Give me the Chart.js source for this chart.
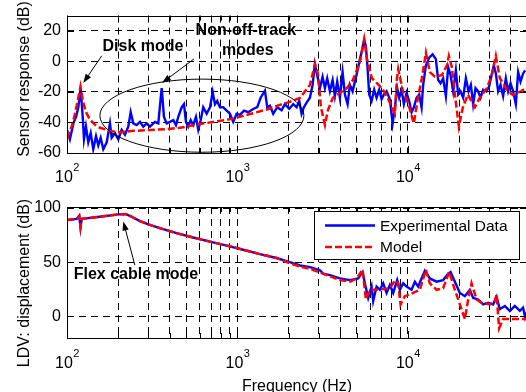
<!DOCTYPE html>
<html>
<head>
<meta charset="utf-8">
<script src="https://cdn.jsdelivr.net/npm/chart.js@4.4.0/dist/chart.umd.min.js"></script>
<style>
  html, body { margin: 0; padding: 0; width: 526px; height: 392px; overflow: hidden; background: #fff; }
  canvas { position: absolute; left: 0; }
  #sensor_chart { top: 0; }
  #ldv_chart { top: 185px; }
</style>
</head>
<body>
<canvas id="sensor_chart" width="528" height="185"></canvas>
<canvas id="ldv_chart" width="528" height="207"></canvas>
<script>
// x grid / tick positions (Hz) and the decade labels 10^n
const freqTicks = [100, 200, 300, 400, 500, 600, 700, 800, 900,
  1000, 2000, 3000, 4000, 5000, 6000, 7000, 8000, 9000,
  10000, 20000, 30000, 40000, 50000];
const xLabelValues = [100, 1000, 10000];
const xLabelExps = ['2', '3', '4'];

const sensorTicks = [-60, -40, -20, 0, 20];
const ldvTicks = [0, 50, 100];

// top plot: sensor response, experimental
const sensorExpFreq = [100, 104, 109, 113, 116.5, 120.3, 123.6, 125.8, 129.2, 133.3, 137.7, 142.6, 148, 152.6, 157.6,
  163.3, 171, 178.7, 182.9, 191.2, 199.9, 209.3, 218.9, 228.8, 236.4, 244.8, 256.3, 268, 280.3, 293.4, 306.7,
  328.2, 343.2, 359.3, 370.7, 384.4, 401.9, 420.3, 435.9, 449.6, 470.7, 485.6, 498.9, 514.6, 531.6, 550.6, 571,
  589, 608.5, 630.2, 659.9, 690, 715.6, 737.9, 761.2, 789.5, 825.4, 864.3, 903.6, 944.8, 989.2, 1034, 1092,
  1157, 1238, 1307, 1368, 1450, 1496, 1551, 1622, 1712, 1816, 1899, 2013, 2125, 2225, 2304, 2380, 2455, 2546,
  2662, 2761, 2848, 2938, 3047, 3160, 3260, 3363, 3487, 3618, 3731, 3849, 3992, 4140, 4271, 4430, 4570, 4740,
  4889, 5043, 5231, 5395, 5543, 5672, 5803, 5930, 6125, 6344, 6553, 6788, 7011, 7233, 7502, 7843, 8135, 8392,
  8656, 8894, 9184, 9474, 9826, 10176, 10512, 10844, 11247, 11649, 12034, 12295, 12753, 13334, 13961, 14597,
  15058, 15555, 16108, 16709, 17237, 17803, 18441, 19124, 19727, 20378, 21104, 21889, 22699, 23415, 24155,
  24951, 25842, 26693, 27645, 28947, 29980, 30968, 31946, 32820, 33855, 34971, 36218, 37565, 38752, 40024,
  41456, 42997, 44357, 45820, 47450, 48753];
const sensorExp = [-44.8, -51, -40.6, -36.4, -30, -17.5, -36, -51, -42.7, -53, -47, -57.5, -49, -55, -50,
  -57.5, -53, -40.6, -50, -47, -51, -44.8, -48, -42.7, -33.3, -40.6, -41.7, -39.6, -42.7, -40.6, -42.7,
  -39.6, -40.6, -17.5, -36.4, -40.6, -39.6, -38.5, -41.7, -36.4, -30.1, -28, -39.6, -42.7, -38.5, -41.7, -36.4,
  -44.8, -38.5, -30.1, -34.3, -30.1, -20, -28, -25.9, -30.1, -30, -32.2, -34.3, -39.6, -34.3, -35, -32.2,
  -33.3, -31.2, -30, -23.8, -19.2, -30.1, -29, -34.3, -30, -32, -28, -31, -28, -30, -25.9, -34.3, -30, -27,
  -23.8, -15.4, -1.7, -9, -17.5, -10.1, -17.5, -11.1, -19.6, -12.2, -22.7, -13.2, -23.8, -7, -21.7, -28, -15.4, -19.6,
  -13.2, -7, 1.5, 7.8, 14.1, 9.9, -4.8, -21.7, -25.9, -18.5, -23.8, -18.5, -24.8, -21.7, -19.6, -24.8, -40.6, -30.1,
  -17.5, -23.8, -18.5, -28, -20.6, -25.9, -33.3, -30.1, -23.8, -21.7, -30.1, -15.4, -2.7, 2.5, 4.6, 1.5,
  -12.2, -14.3, -11.1, -22.7, -3.8, -9, -19.6, -5.9, -21.7, -19.6, -23.8, -11.1, -19.6, -15.4, -28,
  -17.5, -19.6, -23.8, -18.5, -19.6, -16.4, -9, -2.7, -7.9, -19.6, -15.4, -22.7, -11.1, -19.6, -14.3,
  -19.6, -28, -7, -13.2, -7.9, -5.9];

// top plot: sensor response, model
const sensorModelFreq = [100, 107, 111, 116, 120, 124, 129, 136, 146, 156, 179, 205, 244, 307, 386, 460, 603, 738,
  941, 1184, 1489, 1775, 2030, 2326, 2663, 2851, 2967, 3090, 3261, 3394, 3631, 3991, 4387, 4757, 5229, 5544,
  5754, 6152, 6580, 7040, 7533, 8054, 8390, 8610, 8774, 9354, 10000, 10840, 11450, 12080, 12760, 13460, 14400,
  15820, 16930, 17400, 18120, 18870, 19920, 21030, 22490, 24720, 26440, 29060, 31100, 32810, 34640, 38080,
  41300, 45400, 50000];
const sensorModel = [-50.5, -42, -35, -25, -16.5, -26, -33, -38, -41.5, -43.5, -45.5, -46.5, -45.5, -45, -44.3, -43.5, -41, -39.5,
  -37.5, -34.5, -31.5, -28.5, -26.5, -24, -15.4, -1.7, -8, -30, -41.7, -32, -23.8, -20.6, -17.5, -12.2, -0.6, 14.5,
  1.5, -11, -14.3, -17.5, -22.7, -30, -34.3, -12, -5, -19.6, -27, -40.6, -23.8, -11, 5.7, -7, -10,
  -9, -2.7, 3.6, -3.8, -21.7, -42.7, -30, -21.7, -30, -23.8, -17.5, -9, 3.6, -11, -18.5,
  -22, -20, -17];

// bottom plot: LDV displacement, experimental
const ldvExpFreq = [100, 114, 118, 120, 122, 156, 200, 224, 239, 268, 300, 351, 440, 550, 690, 866, 1080, 1355,
  1695, 2030, 2326, 2663, 3049, 3186, 3487, 3992, 4570, 5111, 5424, 5595, 5851, 6125, 6259, 6553, 6852, 7164,
  7502, 7843, 8201, 8656, 8978, 9385, 9826, 10512, 10990, 11491, 12034, 12583, 13459, 14734, 16108, 17237,
  17803, 18871, 20184, 21593, 23100, 24155, 25842, 27645, 29580, 31644, 33130, 34640, 37063, 39650, 42420,
  45380, 47450, 48753, 50000];
const ldvExp = [89, 90, 93, 82, 90, 92, 94.2, 94.2, 92, 88, 85, 81.4, 76.8, 72.8, 69, 65.4, 61.5, 57.5,
  53.9, 50, 47, 45.5, 42.5, 39.5, 38, 35, 33.5, 35, 41, 30.5, 17, 27.5, 14, 27.5, 24.5, 30.5,
  21.6, 29, 21.6, 33.5, 24.5, 30.5, 27.5, 24.5, 32, 27.5, 35, 42, 35, 32, 33.5, 39.5,
  41, 32, 21.6, 18.6, 24.5, 17, 15.6, 11, 12.6, 11, 18, 6.6, 9.6, 5, 9.6,
  5, 8, -1, 4];

// bottom plot: LDV displacement, model
const ldvModelFreq = [100, 114, 118, 120, 122, 156, 200, 224, 239, 268, 300, 351, 440, 550, 690, 866, 1080, 1355,
  1695, 2030, 2326, 2663, 3049, 3487, 3992, 4570, 5003, 5424, 5672, 5986, 6852, 7843, 8390, 8774, 9062, 9603,
  10742, 11759, 12760, 13459, 14734, 16108, 17470, 18871, 20184, 21593, 22580, 23638, 25287, 27059, 30265,
  32380, 33130, 34320, 36218, 41456, 50000];
const ldvModel = [89, 90, 92.5, 83, 90, 92, 94.2, 94.2, 92, 88, 85, 81.4, 76.8, 72.8, 69, 65.4, 61.5, 57.5,
  53.9, 49, 46, 44, 40.5, 37, 33.5, 32, 35, 43, 15.6, 24.5, 25, 26, 33, 30.5, 11, 18.6,
  21.6, 24.5, 43, 30.5, 24.5, 26, 41, 24.5, 11, -2.4, 15.6, 30.5, 15.6, 12.6, 11,
  14, 20, -11, -2.4, -2.4, -2.4];

const FONT = '"Liberation Sans", Arial, Helvetica, sans-serif';
Chart.defaults.font.family = FONT;
Chart.defaults.color = '#000';

function pairs(xs, ys) {
  return xs.map((x, i) => ({ x: x, y: ys[i] }));
}

// axes box, inner ticks, 10^n labels, titles, notes and legend (MATLAB look)
const matlabAxes = {
  id: 'matlabAxes',
  afterDraw(chart, args, o) {
    const { ctx, chartArea: a } = chart;
    const x = chart.scales.x, y = chart.scales.y;
    const fx = v => x.getPixelForValue(v);
    const fy = v => y.getPixelForValue(v);
    ctx.save();
    ctx.strokeStyle = '#000';
    ctx.fillStyle = '#000';
    ctx.lineWidth = 1;
    ctx.setLineDash([]);

    // inner tick marks
    ctx.beginPath();
    freqTicks.forEach(v => {
      const px = Math.round(fx(v)) + 0.5;
      const len = xLabelValues.includes(v) ? 7 : 5;
      ctx.moveTo(px, a.bottom); ctx.lineTo(px, a.bottom - len);
      ctx.moveTo(px, a.top); ctx.lineTo(px, a.top + len);
    });
    o.yTicks.forEach(v => {
      const py = Math.round(fy(v)) + 0.5;
      ctx.moveTo(a.left, py); ctx.lineTo(a.left + 7, py);
      ctx.moveTo(a.right, py); ctx.lineTo(a.right - 7, py);
    });
    ctx.stroke();
    ctx.strokeRect(Math.round(a.left) + 0.5, Math.round(a.top) + 0.5,
      Math.round(a.right - a.left) - 1, Math.round(a.bottom - a.top));

    // x tick labels 10^n
    ctx.textAlign = 'left';
    ctx.textBaseline = 'alphabetic';
    xLabelValues.forEach((v, i) => {
      ctx.font = '16px ' + FONT;
      const w1 = ctx.measureText('10').width;
      ctx.font = '11px ' + FONT;
      const w2 = ctx.measureText(xLabelExps[i]).width;
      const start = fx(v) - (w1 + w2) / 2;
      const base = a.bottom + o.labelDrop;
      ctx.font = '16px ' + FONT;
      ctx.fillText('10', start, base);
      ctx.font = '11px ' + FONT;
      ctx.fillText(xLabelExps[i], start + w1 + 0.5, base - 11);
    });

    // axis titles
    ctx.font = '16px ' + FONT;
    ctx.textAlign = 'center';
    ctx.textBaseline = 'middle';
    ctx.save();
    ctx.translate(25, o.yTitleY);
    ctx.rotate(-Math.PI / 2);
    ctx.fillText(o.yTitle, 0, 0);
    ctx.restore();
    if (o.xTitle) {
      ctx.textBaseline = 'alphabetic';
      ctx.fillText(o.xTitle, (a.left + a.right) / 2, o.xTitleBase);
    }

    // annotations
    const notes = o.notes;
    if (notes.ellipse) {
      const e = notes.ellipse;
      const x1 = fx(e.f[0]), x2 = fx(e.f[1]), y1 = fy(e.db[1]), y2 = fy(e.db[0]);
      ctx.beginPath();
      ctx.ellipse((x1 + x2) / 2, (y1 + y2) / 2, (x2 - x1) / 2, (y2 - y1) / 2, 0, 0, Math.PI * 2);
      ctx.stroke();
    }
    notes.arrows.forEach(ar => {
      const x1 = fx(ar.from[0]), y1 = fy(ar.from[1]);
      const x2 = fx(ar.to[0]), y2 = fy(ar.to[1]);
      const ang = Math.atan2(y2 - y1, x2 - x1);
      ctx.beginPath();
      ctx.moveTo(x1, y1); ctx.lineTo(x2 - 6 * Math.cos(ang), y2 - 6 * Math.sin(ang));
      ctx.stroke();
      ctx.beginPath();
      ctx.moveTo(x2, y2);
      ctx.lineTo(x2 - 9 * Math.cos(ang) + 3.2 * Math.sin(ang), y2 - 9 * Math.sin(ang) - 3.2 * Math.cos(ang));
      ctx.lineTo(x2 - 9 * Math.cos(ang) - 3.2 * Math.sin(ang), y2 - 9 * Math.sin(ang) + 3.2 * Math.cos(ang));
      ctx.closePath();
      ctx.fill();
    });
    ctx.font = 'bold 16px ' + FONT;
    ctx.textAlign = 'center';
    ctx.textBaseline = 'middle';
    notes.texts.forEach(t => ctx.fillText(t.t, fx(t.f), fy(t.db)));

    // legend box
    if (o.legend) {
      const bx = a.right - 213, by = a.top + 4;
      ctx.fillStyle = '#fff';
      ctx.fillRect(bx, by, 205, 48);
      ctx.strokeRect(bx + 0.5, by + 0.5, 205, 48);
      ctx.font = '15.5px ' + FONT;
      ctx.textAlign = 'left';
      chart.data.datasets.forEach((ds, i) => {
        const ly = by + 14.5 + i * 21.5;
        ctx.strokeStyle = ds.borderColor;
        ctx.lineWidth = ds.borderWidth;
        ctx.setLineDash(ds.borderDash || []);
        ctx.beginPath();
        ctx.moveTo(bx + 11, ly); ctx.lineTo(bx + 61, ly);
        ctx.stroke();
        ctx.fillStyle = '#000';
        ctx.fillText(ds.label, bx + 66, ly + 1);
      });
    }
    ctx.restore();
  }
};

function makeOptions(yMin, yMax, yTicks, xAxisHeight, padTop) {
  const grid = { color: '#000', lineWidth: 1, drawTicks: false };
  const border = { display: false, dash: [7, 5] };
  return {
    responsive: false,
    animation: false,
    devicePixelRatio: 1,
    layout: { padding: { left: 0, right: 1, top: padTop, bottom: 0 } },
    elements: { point: { radius: 0 }, line: { tension: 0 } },
    plugins: { legend: { display: false }, tooltip: { enabled: false } },
    scales: {
      x: {
        type: 'logarithmic', min: 100, max: 50000,
        afterBuildTicks: s => { s.ticks = freqTicks.map(v => ({ value: v })); },
        afterFit: s => { s.height = xAxisHeight; },
        ticks: { display: false, autoSkip: false },
        grid: grid, border: border
      },
      y: {
        type: 'linear', min: yMin, max: yMax,
        afterBuildTicks: s => { s.ticks = yTicks.map(v => ({ value: v })); },
        afterFit: s => { s.width = 67; },
        ticks: { font: { size: 16 }, color: '#000', padding: 6 },
        grid: grid, border: border
      }
    }
  };
}

function datasets(expFreq, exp, modelFreq, model) {
  return [
    { label: 'Experimental Data', data: pairs(expFreq, exp), borderColor: '#0000ff',
      borderWidth: 2.4, order: 1 },
    { label: 'Model', data: pairs(modelFreq, model), borderColor: '#ff0000',
      borderWidth: 2.5, borderDash: [7, 3], order: 0 }
  ];
}

const sensorOptions = makeOptions(-60, 30, sensorTicks, 32, 10);
sensorOptions.plugins.matlabAxes = {
  yTicks: sensorTicks, labelDrop: 28.5, yTitle: 'Sensor response (dB)', yTitleY: 79,
  notes: {
    texts: [{ t: 'Disk mode', f: 279, db: 10 }, { t: 'Non-off-track', f: 1120, db: 19.9 },
            { t: 'modes', f: 1150, db: 6.9 }],
    arrows: [{ from: [160, 3.7], to: [124.6, -14.1] }, { from: [556, 1.6], to: [361, -14.1] }],
    ellipse: { f: [156, 2455], db: [-59.5, -11.6] }
  }
};

new Chart(document.getElementById('sensor_chart'), {
  type: 'line',
  data: { datasets: datasets(sensorExpFreq, sensorExp, sensorModelFreq, sensorModel) },
  options: sensorOptions,
  plugins: [matlabAxes]
});

const ldvOptions = makeOptions(-20, 101, ldvTicks, 54, 22);
ldvOptions.plugins.matlabAxes = {
  yTicks: ldvTicks, labelDrop: 30, yTitle: 'LDV: displacement (dB)', yTitleY: 98,
  xTitle: 'Frequency (Hz)', xTitleBase: 205.8, legend: true,
  notes: {
    texts: [{ t: 'Flex cable mode', f: 254, db: 38.2 }],
    arrows: [{ from: [250, 47.4], to: [214, 87.6] }]
  }
};

new Chart(document.getElementById('ldv_chart'), {
  type: 'line',
  data: { datasets: datasets(ldvExpFreq, ldvExp, ldvModelFreq, ldvModel) },
  options: ldvOptions,
  plugins: [matlabAxes]
});
</script>
</body>
</html>
